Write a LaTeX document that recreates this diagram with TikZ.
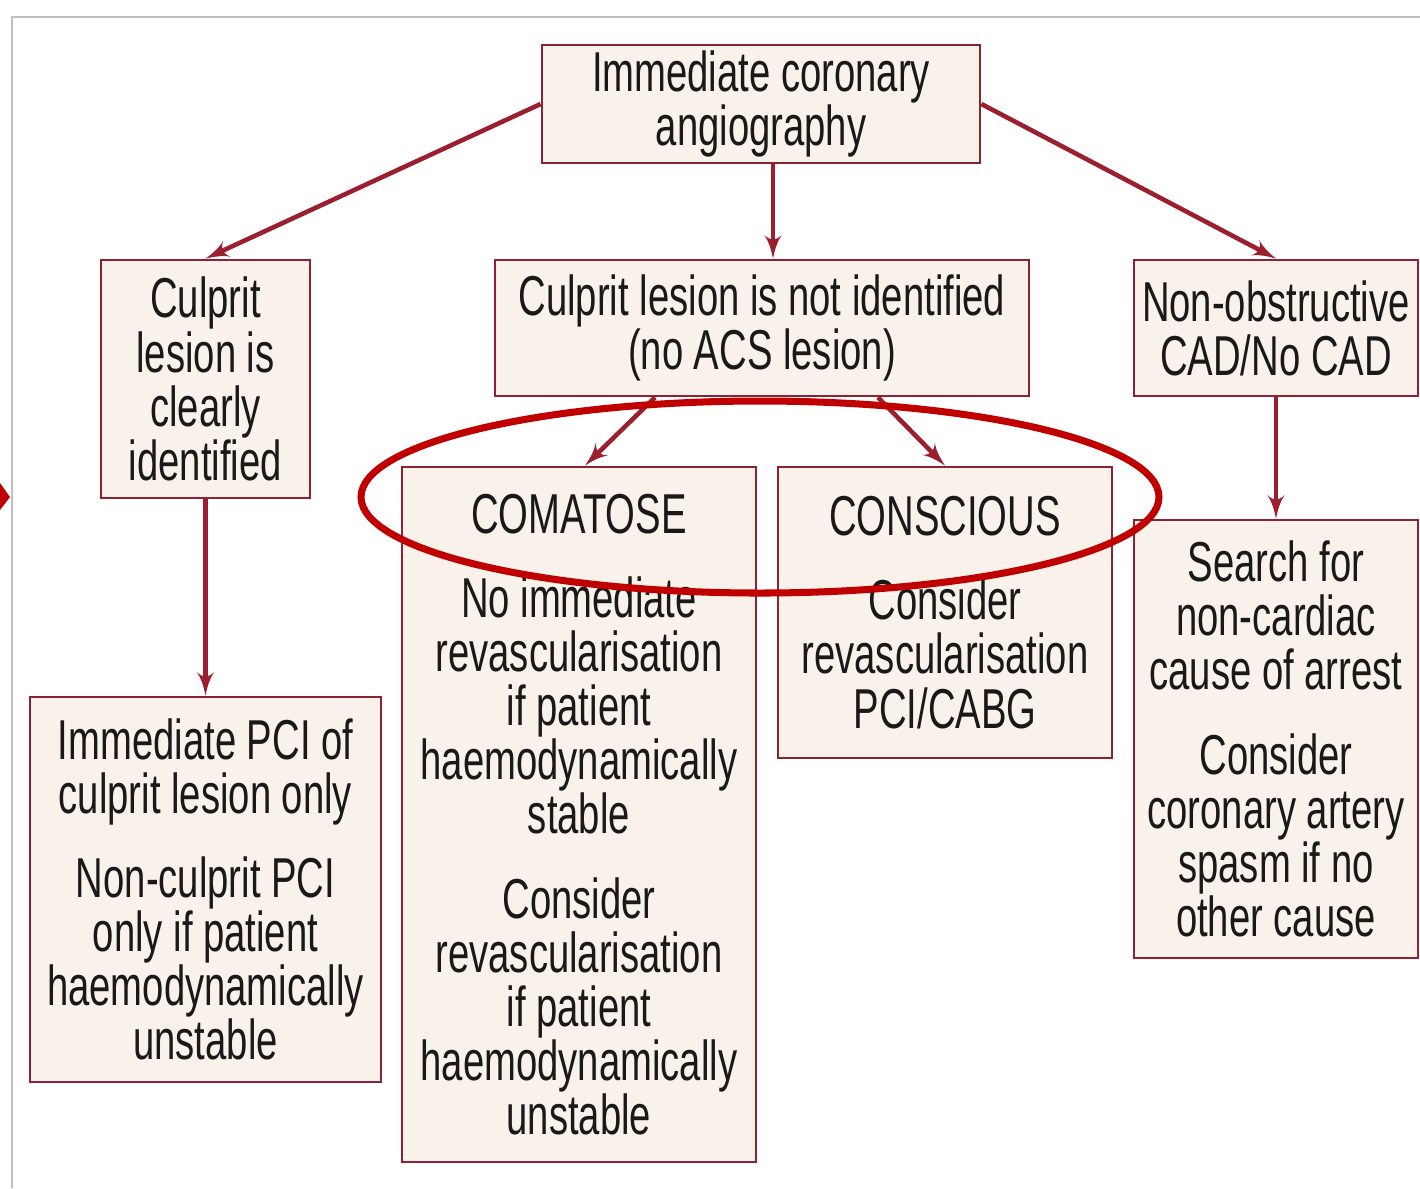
\documentclass[tikz,border=0pt]{standalone}
\usepackage{fontspec}
\setmainfont[FakeStretch=0.68]{Liberation Sans}
\usepackage{tikz}
\usetikzlibrary{arrows,positioning,calc}

\definecolor{boxline}{HTML}{8B2332}
\definecolor{boxfill}{HTML}{F9F2EA}
\definecolor{arrline}{HTML}{9B1F2E}
\definecolor{ringred}{HTML}{C00000}

\begin{document}
\begin{tikzpicture}[
            box/.style={draw=boxline, fill=boxfill, line width=0.8pt, inner sep=0pt,
                        align=center, text=black!90,
                        font=\fontsize{16}{15.4}\selectfont},
            arr/.style={->, draw=arrline, line width=1.3pt, -latex'}]
        \useasboundingbox (0,0) rectangle (14.2,-11.88);
        % frame
        \draw[black!25, line width=0.6pt] (0.12,-11.88) -- (0.12,-0.17) -- (14.2,-0.17);
        \fill[ringred] (0,-4.83) -- (0.10,-4.97) -- (0,-5.10) -- cycle;

        \node[box, minimum width=4.38cm, minimum height=1.18cm] (angio) at (7.61,-1.04)
              {Immediate coronary\\angiography};
        \node[box, minimum width=2.09cm, minimum height=2.38cm] (culprit) at (2.055,-3.79)
              {Culprit\\lesion is\\clearly\\identified};
        \node[box, minimum width=5.34cm, minimum height=1.36cm] (noculprit) at (7.62,-3.28)
              {Culprit lesion is not identified\\(no ACS lesion)};
        \node[box, minimum width=2.84cm, minimum height=1.36cm] (noncad) at (12.76,-3.28)
              {Non-obstructive\\CAD/No CAD};
        \node[box, minimum width=3.51cm, minimum height=3.85cm] (pci) at (2.055,-8.895)
              {Immediate PCI of\\culprit lesion only\\[0.3cm]
               Non-culprit PCI\\only if patient\\haemodynamically\\unstable};
        \node[box, minimum width=3.54cm, minimum height=6.95cm] (comatose) at (5.79,-8.145)
              {COMATOSE\\[0.3cm]
               No immediate\\revascularisation\\if patient\\haemodynamically\\stable\\[0.3cm]
               Consider\\revascularisation\\if patient\\haemodynamically\\unstable};
        \node[box, minimum width=3.34cm, minimum height=2.91cm] (conscious) at (9.45,-6.125)
              {CONSCIOUS\\[0.3cm]
               Consider\\revascularisation\\PCI/CABG};
        \node[box, minimum width=2.84cm, minimum height=4.38cm] (search) at (12.76,-7.39)
              {Search for\\non-cardiac\\cause of arrest\\[0.3cm]
               Consider\\coronary artery\\spasm if no\\other cause};

        \draw[arr] (angio.west) -- (culprit.north);
        \draw[arr] ([xshift=0.12cm]angio.south) -- ([xshift=0.12cm]angio.south |- noculprit.north);
        \draw[arr] (angio.east) -- (noncad.north);
        \draw[arr] (culprit.south) -- (culprit.south |- pci.north);
        \draw[arr] ([xshift=-1.07cm]noculprit.south) -- ([xshift=0.06cm]comatose.north);
        \draw[arr] ([xshift=1.16cm]noculprit.south) -- (conscious.north);
        \draw[arr] (noncad.south) -- (search.north);

        % highlight ring
        \draw[ringred, line width=2pt] (7.6,-4.97) ellipse [x radius=3.99, y radius=0.96];
\end{tikzpicture}
\end{document}
